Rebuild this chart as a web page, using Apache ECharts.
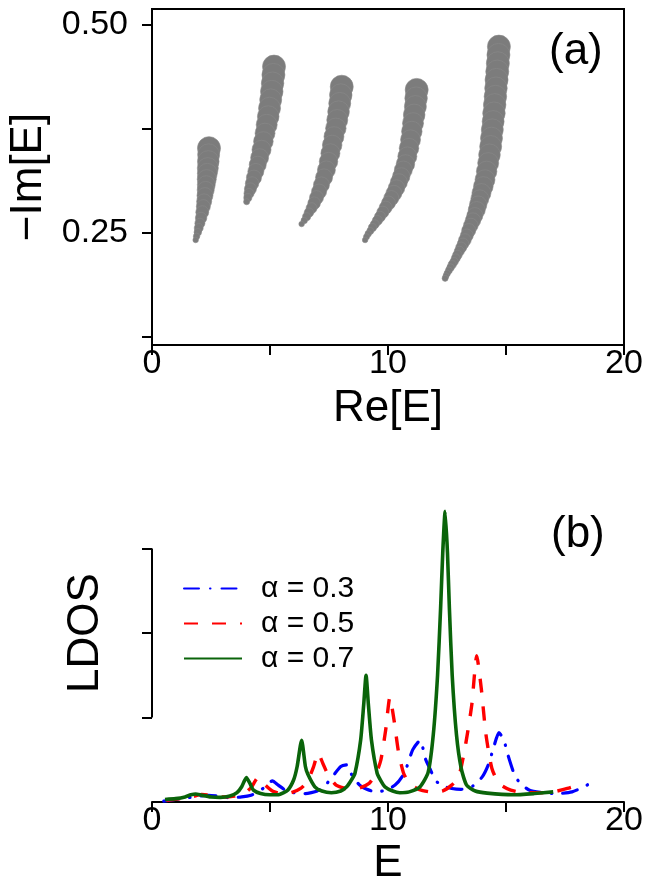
<!DOCTYPE html>
<html>
<head>
<meta charset="utf-8">
<script src="https://cdn.jsdelivr.net/npm/echarts@6/dist/echarts.min.js"></script>
<style>
html,body{margin:0;padding:0;background:#fff;}
#chart{width:657px;height:881px;}
</style>
</head>
<body>
<div id="chart"></div>
<script>
// ---------- Panel (a): complex eigenvalue branches [Re, -Im, alpha] ----------
const branch1 = [[2.415,0.352,1.0],[2.40,0.344,0.94],[2.385,0.336,0.92],[2.365,0.328,0.89],[2.345,0.3217,0.83],[2.32,0.3147,0.78],[2.30,0.308,0.72],[2.275,0.3017,0.67],[2.245,0.295,0.61],[2.21,0.288,0.56],[2.175,0.2817,0.5],[2.13,0.275,0.44],[2.08,0.268,0.36],[2.03,0.2617,0.28],[1.98,0.256,0.22],[1.94,0.251,0.14],[1.89,0.246,0.08],[1.85,0.2416,0.03]];
const branch2 = [[5.17,0.450,1.0],[5.145,0.440,1.0],[5.11,0.430,0.97],[5.075,0.420,0.97],[5.03,0.410,0.94],[4.98,0.400,0.94],[4.925,0.390,0.92],[4.86,0.380,0.89],[4.79,0.370,0.83],[4.72,0.360,0.81],[4.64,0.350,0.78],[4.56,0.3405,0.72],[4.48,0.332,0.67],[4.40,0.324,0.61],[4.32,0.3165,0.56],[4.24,0.3095,0.47],[4.17,0.303,0.39],[4.11,0.2975,0.28],[4.06,0.2925,0.17],[4.01,0.2876,0.06]];
const branch3 = [[8.04,0.4258,1.0],[8.0,0.4158,0.97],[7.955,0.4058,0.94],[7.905,0.3958,0.92],[7.85,0.3858,0.89],[7.79,0.3758,0.86],[7.71,0.3658,0.83],[7.635,0.3558,0.81],[7.56,0.3458,0.78],[7.48,0.3358,0.75],[7.39,0.3258,0.72],[7.29,0.3168,0.67],[7.18,0.3078,0.61],[7.08,0.2998,0.56],[6.97,0.2925,0.5],[6.87,0.2858,0.42],[6.76,0.2798,0.33],[6.65,0.2745,0.25],[6.55,0.2695,0.17],[6.45,0.265,0.08],[6.34,0.2608,0.03]];
const branch4 = [[11.215,0.422,1.0],[11.19,0.412,0.97],[11.16,0.402,0.94],[11.11,0.392,0.92],[11.06,0.382,0.89],[11.01,0.372,0.86],[10.955,0.362,0.83],[10.89,0.352,0.81],[10.82,0.342,0.78],[10.74,0.333,0.75],[10.65,0.3257,0.72],[10.56,0.318,0.69],[10.46,0.311,0.67],[10.36,0.304,0.64],[10.25,0.2977,0.61],[10.14,0.292,0.56],[10.02,0.286,0.5],[9.9,0.2805,0.44],[9.78,0.275,0.39],[9.66,0.2696,0.33],[9.55,0.265,0.28],[9.44,0.2605,0.22],[9.34,0.2565,0.17],[9.25,0.2525,0.11],[9.16,0.249,0.08],[9.09,0.2455,0.06],[9.03,0.2416,0.03]];
const branch5 = [[14.70,0.474,1.0],[14.68,0.464,1.0],[14.655,0.454,1.0],[14.63,0.444,1.0],[14.60,0.434,1.0],[14.575,0.424,0.97],[14.55,0.414,0.97],[14.52,0.404,0.97],[14.49,0.394,0.97],[14.455,0.384,0.94],[14.42,0.374,0.94],[14.385,0.364,0.94],[14.35,0.354,0.94],[14.30,0.344,0.92],[14.245,0.334,0.89],[14.18,0.324,0.86],[14.11,0.314,0.83],[14.04,0.306,0.81],[13.96,0.298,0.78],[13.89,0.291,0.72],[13.82,0.284,0.69],[13.76,0.2776,0.67],[13.68,0.271,0.61],[13.6,0.265,0.58],[13.51,0.259,0.53],[13.42,0.253,0.5],[13.34,0.247,0.44],[13.26,0.2416,0.42],[13.18,0.237,0.36],[13.1,0.2325,0.33],[13.02,0.228,0.28],[12.94,0.2235,0.25],[12.87,0.2195,0.22],[12.80,0.2155,0.19],[12.72,0.212,0.17],[12.65,0.2085,0.14],[12.58,0.205,0.11],[12.51,0.2015,0.08],[12.46,0.1985,0.06],[12.42,0.1955,0.06]];

const aYTicks = [0.125, 0.25, 0.375, 0.5];
const aYLabels = [0.25, 0.5];
const xLabelValues = [0, 10, 20];

// ---------- Panel (b): LDOS curves [E, LDOS] ----------
const ldos03 = [[0.5,0.01],[1.0,0.03],[1.5,0.05],[2.0,0.07],[2.4,0.08],[2.8,0.07],[3.3,0.05],[3.8,0.06],[4.2,0.08],[4.5,0.12],[4.8,0.18],[5.1,0.25],[5.35,0.2],[5.65,0.14],[6.0,0.11],[6.5,0.1],[7.0,0.13],[7.35,0.2],[7.7,0.32],[8.0,0.42],[8.25,0.44],[8.5,0.3],[8.8,0.2],[9.1,0.15],[9.5,0.12],[9.9,0.14],[10.3,0.2],[10.6,0.3],[10.8,0.42],[11.05,0.62],[11.36,0.73],[11.6,0.5],[11.8,0.38],[12.0,0.26],[12.3,0.19],[12.7,0.16],[13.1,0.15],[13.6,0.19],[14.0,0.3],[14.25,0.44],[14.45,0.62],[14.7,0.82],[14.9,0.74],[15.1,0.54],[15.35,0.33],[15.6,0.22],[16.0,0.14],[16.6,0.11],[17.2,0.1],[17.8,0.12],[18.3,0.18],[18.8,0.26]];
const ldos05 = [[0.6,0.02],[1.2,0.04],[1.7,0.06],[2.1,0.09],[2.5,0.08],[3.0,0.06],[3.5,0.07],[3.9,0.1],[4.2,0.17],[4.5,0.29],[4.8,0.2],[5.1,0.13],[5.5,0.1],[5.9,0.11],[6.3,0.16],[6.6,0.25],[6.85,0.42],[7.04,0.58],[7.25,0.45],[7.5,0.3],[7.8,0.2],[8.2,0.16],[8.7,0.16],[9.2,0.22],[9.5,0.34],[9.7,0.5],[9.9,0.85],[10.08,1.24],[10.25,0.98],[10.44,0.6],[10.65,0.35],[10.9,0.22],[11.3,0.15],[11.8,0.12],[12.3,0.13],[12.7,0.2],[13.0,0.3],[13.3,0.7],[13.55,1.15],[13.76,1.73],[13.95,1.35],[14.15,0.8],[14.4,0.4],[14.7,0.22],[15.2,0.14],[15.8,0.11],[16.5,0.11],[17.0,0.12],[17.6,0.16],[18.3,0.22]];
const ldos07 = [[0.55,0.03],[1.0,0.04],[1.4,0.06],[1.65,0.085],[1.85,0.095],[2.1,0.08],[2.5,0.06],[2.9,0.055],[3.3,0.07],[3.6,0.11],[3.8,0.18],[4.0,0.29],[4.15,0.22],[4.3,0.14],[4.6,0.1],[5.0,0.085],[5.4,0.09],[5.75,0.14],[6.0,0.26],[6.15,0.42],[6.34,0.73],[6.5,0.42],[6.6,0.33],[6.9,0.18],[7.2,0.13],[7.6,0.11],[8.0,0.13],[8.25,0.18],[8.45,0.26],[8.6,0.34],[8.84,0.73],[8.97,1.15],[9.07,1.5],[9.17,1.15],[9.3,0.73],[9.54,0.34],[9.7,0.25],[9.87,0.18],[10.2,0.13],[10.5,0.11],[10.9,0.12],[11.36,0.18],[11.7,0.35],[11.92,0.8],[12.1,1.5],[12.23,2.3],[12.32,2.95],[12.42,3.44],[12.52,2.95],[12.6,2.3],[12.72,1.5],[12.9,0.8],[13.1,0.4],[13.33,0.2],[13.7,0.13],[14.2,0.105],[15.3,0.085],[16.2,0.1],[17.0,0.12]];
const bracketLDOS = [[0,1],[0,3]];
const bYTicks = [1, 2, 3];
const seriesNames = ['α = 0.3', 'α = 0.5', 'α = 0.7'];

const FONT = 'Liberation Sans, Arial, Helvetica, sans-serif';
const chart = echarts.init(document.getElementById('chart'), null, {renderer: 'canvas'});

function branchSeries(data) {
  return {
    type: 'scatter', xAxisIndex: 0, yAxisIndex: 0, data: data,
    symbol: 'circle',
    symbolSize: v => 5 + 18 * v[2],
    itemStyle: {color: '#7c7c7c', borderColor: '#8a8a8a', borderWidth: 0.6, opacity: 1},
    silent: true, z: 3
  };
}

const axisCommonX = {
  type: 'value', min: 0, max: 20, interval: 5,
  axisLine: {show: true, lineStyle: {color: '#000', width: 2}},
  axisTick: {show: true, inside: false, length: 10, lineStyle: {color: '#000', width: 2}},
  axisLabel: {show: true, margin: 2, color: '#000', fontSize: 34, fontFamily: FONT,
    formatter: v => (xLabelValues.indexOf(v) >= 0 ? String(v) : '')},
  splitLine: {show: false},
  nameLocation: 'middle',
  nameTextStyle: {color: '#000', fontSize: 44, fontFamily: FONT}
};

const option = {
  animation: false,
  backgroundColor: '#fff',
  textStyle: {fontFamily: FONT},
  grid: [
    {left: 152, right: 33, top: 9, height: 336, show: true, borderColor: '#000', borderWidth: 2,
     backgroundColor: 'transparent', containLabel: false, outerBoundsMode: 'none'},
    {left: 152, right: 33, top: 464, height: 338, containLabel: false, outerBoundsMode: 'none'}
  ],
  xAxis: [
    Object.assign({}, axisCommonX, {gridIndex: 0, name: 'Re[E]', nameGap: 42}),
    Object.assign({}, axisCommonX, {gridIndex: 1, name: 'E', nameGap: 40})
  ],
  yAxis: [
    {
      type: 'value', gridIndex: 0, min: 0.1154, max: 0.5192,
      axisLine: {show: true, lineStyle: {color: '#000', width: 2}},
      axisTick: {show: true, inside: false, length: 10, lineStyle: {color: '#000', width: 2}, customValues: aYTicks},
      axisLabel: {show: true, margin: 24, color: '#000', fontSize: 34, fontFamily: FONT, padding: [8, 0, 0, 0],
        customValues: aYLabels, formatter: v => Number(v).toFixed(2)},
      splitLine: {show: false},
      name: '−Im[E]', nameLocation: 'middle', nameGap: 96, nameRotate: 90,
      nameTextStyle: {color: '#000', fontSize: 44, fontFamily: FONT}
    },
    {
      type: 'value', gridIndex: 1, min: 0, max: 4,
      axisLine: {show: false},
      axisTick: {show: true, inside: false, length: 10, lineStyle: {color: '#000', width: 2}, customValues: bYTicks},
      axisLabel: {show: false},
      splitLine: {show: false},
      name: 'LDOS', nameLocation: 'middle', nameGap: 44, nameRotate: 90,
      nameTextStyle: {color: '#000', fontSize: 44, fontFamily: FONT}
    }
  ],
  legend: {
    data: seriesNames,
    orient: 'vertical', left: 178, top: 568,
    itemWidth: 58, itemHeight: 14, itemGap: 4,
    itemStyle: {opacity: 0},
    textStyle: {color: '#000', fontSize: 30, fontFamily: FONT, lineHeight: 31, padding: [0, 0, 0, 14]},
    selectedMode: false
  },
  graphic: [
    {type: 'text', left: 549, top: 30, style: {text: '(a)', fontSize: 44, fontFamily: FONT, fill: '#000'}},
    {type: 'text', left: 551, top: 513, style: {text: '(b)', fontSize: 44, fontFamily: FONT, fill: '#000'}}
  ],
  series: [
    branchSeries(branch1), branchSeries(branch2), branchSeries(branch3), branchSeries(branch4), branchSeries(branch5),
    {
      name: seriesNames[0], type: 'line', xAxisIndex: 1, yAxisIndex: 1, data: ldos03,
      showSymbol: false, symbol: 'none', smooth: 0.2,
      lineStyle: {color: '#0000ff', width: 3.2, type: [15, 11, 0.5, 11], cap: 'round', join: 'round'},
      itemStyle: {color: '#0000ff'}, z: 3
    },
    {
      name: seriesNames[1], type: 'line', xAxisIndex: 1, yAxisIndex: 1, data: ldos05,
      showSymbol: false, symbol: 'none', smooth: 0.2,
      lineStyle: {color: '#ff0000', width: 3.4, type: [14, 14], join: 'round'},
      itemStyle: {color: '#ff0000'}, z: 4
    },
    {
      name: seriesNames[2], type: 'line', xAxisIndex: 1, yAxisIndex: 1, data: ldos07,
      showSymbol: false, symbol: 'none', smooth: 0.2,
      lineStyle: {color: '#0a640a', width: 3.6, join: 'round'},
      itemStyle: {color: '#0a640a'}, z: 5
    },
    {
      type: 'line', xAxisIndex: 1, yAxisIndex: 1, data: bracketLDOS,
      showSymbol: false, symbol: 'none', clip: false, silent: true,
      lineStyle: {color: '#000', width: 2}, z: 6
    }
  ]
};
chart.setOption(option);
</script>
</body>
</html>
